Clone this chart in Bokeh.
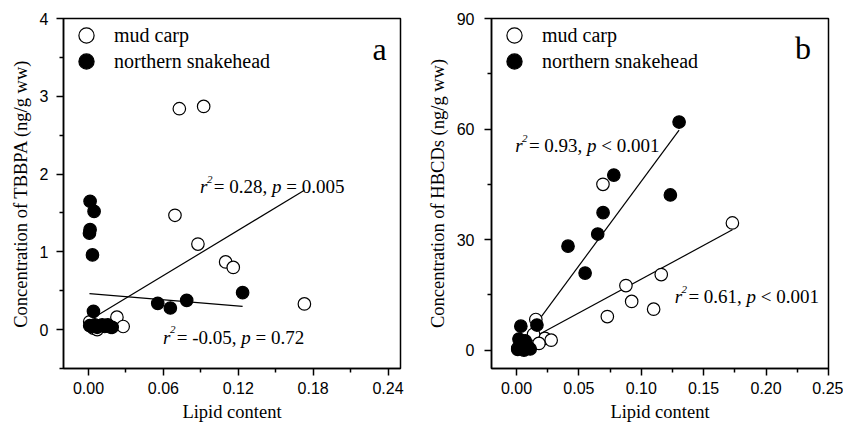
from bokeh.plotting import figure
from bokeh.layouts import row
from bokeh.models import (Range1d, FixedTicker, NumeralTickFormatter, Legend,
                          LegendItem, Label)
from bokeh.embed import file_html
from bokeh.resources import INLINE

# ---------------- data ----------------
# mud carp (same fish in both panels)
mc_lipid = [0.0728, 0.0923, 0.0693, 0.0877, 0.1099, 0.1160, 0.1730, 0.0228,
            0.0278, 0.0155, 0.0137, 0.0180, 0.0010, 0.0040, 0.0070]
mc_tbbpa = [2.84, 2.87, 1.47, 1.10, 0.87, 0.80, 0.33, 0.16,
            0.04, 0.06, 0.05, 0.03, 0.10, 0.02, 0.00]
mc_hbcd = [9.1, 13.2, 45.0, 17.5, 11.1, 20.5, 34.5, 3.2,
           2.7, 8.3, 4.3, 1.8, 0.5, 1.0, 0.3]

# northern snakehead
ns_lipid_a = [0.0013, 0.0045, 0.0013, 0.0008, 0.0032, 0.0040, 0.0555, 0.0656,
              0.0787, 0.1235, 0.0010, 0.0030, 0.0050, 0.0070, 0.0090, 0.0110,
              0.0130, 0.0160, 0.0190]
ns_tbbpa = [1.65, 1.52, 1.285, 1.24, 0.96, 0.235, 0.338, 0.278,
            0.377, 0.475, 0.05, 0.04, 0.06, 0.03, 0.05, 0.06,
            0.04, 0.05, 0.03]
ns_lipid_b = [0.1303, 0.0780, 0.1233, 0.0694, 0.0651, 0.0413, 0.0550, 0.0164,
              0.0035, 0.0010, 0.0030, 0.0050, 0.0070, 0.0090, 0.0110, 0.0020,
              0.0060]
ns_hbcd = [61.9, 47.5, 42.1, 37.3, 31.5, 28.2, 20.9, 6.8,
           6.5, 0.2, 1.5, 0.5, 2.5, 1.0, 0.3, 3.0, 0.0]

# linear fits [intercept, slope]
fit_tbbpa_mc = [0.113, 9.70]
fit_tbbpa_ns = [0.465, -1.348]
fit_hbcd_mc = [0.90, 183.5]
fit_hbcd_ns = [-0.05, 458.6]

# statistics text
stat_a_r2 = ["0.28", "-0.05"]
stat_a_op = ["=", "="]
stat_a_p = ["0.005", "0.72"]
stat_b_r2 = ["0.93", "0.61"]
stat_b_op = ["<", "<"]
stat_b_p = ["0.001", "0.001"]

series_names = ["mud carp", "northern snakehead"]
panel_letters = ["a", "b"]

# ticks
xticks_a = [0.0, 0.06, 0.12, 0.18, 0.24]
xminor_a = [0.03, 0.09, 0.15, 0.21]
yticks_a = [0, 1, 2, 3, 4]
yminor_a = [-0.5, 0.5, 1.5, 2.5, 3.5]
xticks_b = [0.0, 0.05, 0.10, 0.15, 0.20, 0.25]
xminor_b = [0.025, 0.075, 0.125, 0.175, 0.225]
yticks_b = [0, 30, 60, 90]
yminor_b = [15, 45, 75]

# ---------------- layout / style ----------------
SERIF = "Liberation Serif"
SANS = "Liberation Sans"
STAT_SIZE = 19.0

W = {".": 0.25, ",": 0.25, " ": 0.25, "=": 0.564, "<": 0.564, "-": 0.333}


def tw(s):
    return sum(W.get(c, 0.5) for c in s)


def stat_label(p, x, y, r2, op, pv):
    F = STAT_SIZE
    pieces = []
    pieces.append(("r", "italic", F, 0.0, 0.0))
    pieces.append(("2", "italic", F * 0.58, 0.36 * F, 0.40 * F))
    s1 = "= " + r2 + ","
    off = 0.72 * F
    pieces.append((s1, "normal", F, off, 0.0))
    off += (tw(s1) + 0.25) * F
    pieces.append(("p", "italic", F, off, 0.0))
    off += (0.5 + 0.25) * F
    s2 = op + " " + pv
    pieces.append((s2, "normal", F, off, 0.0))
    for txt, style, size, xo, yo in pieces:
        p.add_layout(Label(x=x, y=y, x_offset=xo, y_offset=yo, text=txt,
                           text_font=SERIF, text_font_style=style,
                           text_font_size=f"{size:.1f}px", text_color="black",
                           text_baseline="alphabetic", text_align="left"))


def make_panel(bl, br, xr, yr, xt, xm, yt, ym, ylabel, ystand, ylabstand):
    p = figure(frame_width=337, frame_height=350, x_range=Range1d(*xr),
               y_range=Range1d(*yr), output_backend="svg",
               toolbar_location=None, min_border_left=bl,
               min_border_right=br, min_border_top=18, min_border_bottom=50)
    p.grid.visible = False
    p.outline_line_color = "black"
    p.outline_line_width = 1.5
    p.background_fill_color = "white"
    p.border_fill_color = "white"
    for ax in (p.xaxis[0], p.yaxis[0]):
        ax.axis_line_width = 1.5
        ax.axis_line_color = "black"
        ax.major_tick_out = 7
        ax.major_tick_in = 0
        ax.minor_tick_out = 4
        ax.minor_tick_in = 0
        ax.major_tick_line_width = 1.5
        ax.minor_tick_line_width = 1.5
        ax.major_tick_line_color = "black"
        ax.minor_tick_line_color = "black"
        ax.major_label_text_font = SANS
        ax.major_label_text_font_size = "16px"
        ax.major_label_text_color = "black"
        ax.axis_label_text_font = SERIF
        ax.axis_label_text_font_size = "18.5px"
        ax.axis_label_text_font_style = "normal"
        ax.axis_label_text_color = "black"
    p.xaxis.ticker = FixedTicker(ticks=xt, minor_ticks=xm)
    p.yaxis.ticker = FixedTicker(ticks=yt, minor_ticks=ym)
    p.xaxis.formatter = NumeralTickFormatter(format="0.00")
    p.yaxis.formatter = NumeralTickFormatter(format="0")
    p.xaxis.axis_label = "Lipid content"
    p.yaxis.axis_label = ylabel
    p.xaxis.major_label_standoff = 6
    p.xaxis.axis_label_standoff = 5
    p.yaxis.major_label_standoff = ystand
    p.yaxis.axis_label_standoff = ylabstand
    return p


def fit_line(p, xs, fit):
    x0, x1 = min(xs), max(xs)
    p.line([x0, x1], [fit[0] + fit[1] * x0, fit[0] + fit[1] * x1],
           line_color="black", line_width=1.2)


def add_points(p, mx, my, nx, ny):
    r_mc = p.scatter(mx, my, size=12.5, marker="circle", fill_color="white",
                     line_color="black", line_width=1.2)
    r_ns = p.scatter(nx, ny, size=12.5, marker="circle", fill_color="black",
                     line_color="black", line_width=1.2)
    for name, rend, ypos in ((series_names[0], r_mc, 314),
                             (series_names[1], r_ns, 288)):
        leg = Legend(items=[LegendItem(label=name, renderers=[rend])],
                     location=(4, ypos), orientation="vertical",
                     glyph_width=38, glyph_height=38, label_height=26,
                     spacing=0, padding=0, margin=0, label_standoff=9,
                     label_text_font=SERIF, label_text_font_size="20px",
                     label_text_color="black",
                     background_fill_alpha=0, border_line_color=None)
        p.add_layout(leg)


# ---------------- panel a ----------------
pa = make_panel(63, 24, (-0.02, 0.25), (-0.5, 4.0), xticks_a, xminor_a,
                yticks_a, yminor_a, "Concentration of TBBPA (ng/g ww)", 8, 6)
fit_line(pa, mc_lipid, fit_tbbpa_mc)
fit_line(pa, ns_lipid_a, fit_tbbpa_ns)
add_points(pa, mc_lipid, mc_tbbpa, ns_lipid_a, ns_tbbpa)
stat_label(pa, 0.0894, 1.837, stat_a_r2[0], stat_a_op[0], stat_a_p[0])
stat_label(pa, 0.0598, -0.098, stat_a_r2[1], stat_a_op[1], stat_a_p[1])
pa.add_layout(Label(x=0.2275, y=3.61, text=panel_letters[0], text_font=SERIF,
                    text_font_size="32px", text_color="black",
                    text_baseline="alphabetic"))

# ---------------- panel b ----------------
pb = make_panel(64, 15, (-0.02, 0.25), (-5.0, 90.0), xticks_b, xminor_b,
                yticks_b, yminor_b, "Concentration of HBCDs (ng/g ww)", 10, 6)
fit_line(pb, mc_lipid, fit_hbcd_mc)
fit_line(pb, ns_lipid_b, fit_hbcd_ns)
add_points(pb, mc_lipid, mc_hbcd, ns_lipid_b, ns_hbcd)
stat_label(pb, -0.001, 55.4, stat_b_r2[0], stat_b_op[0], stat_b_p[0])
stat_label(pb, 0.1268, 14.5, stat_b_r2[1], stat_b_op[1], stat_b_p[1])
pb.add_layout(Label(x=0.2232, y=82.0, text=panel_letters[1], text_font=SERIF,
                    text_font_size="32px", text_color="black",
                    text_baseline="alphabetic"))

layout = row(pa, pb)
open("out.html", "w").write(file_html(layout, INLINE))
